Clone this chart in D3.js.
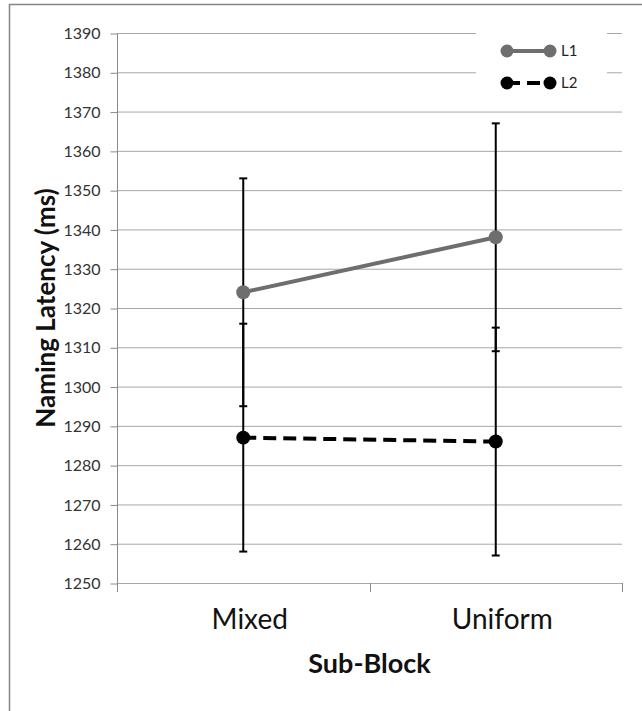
<!DOCTYPE html>
<html>
<head>
<meta charset="utf-8">
<script src="https://cdn.jsdelivr.net/npm/d3@7"></script>
<style>
  body { margin: 0; background: #fff; }
  svg { display: block; font-family: Lato, "Open Sans", sans-serif; }
</style>
</head>
<body>
<script>
// chart values
const categories = ["Mixed", "Uniform"];
const seriesNames = ["L1", "L2"];
const l1Values = [1324, 1338];
const l2Values = [1287, 1286];
const l1Errors = [29, 29];
const l2Errors = [29, 29];
const yTicks = [1250, 1260, 1270, 1280, 1290, 1300, 1310, 1320, 1330, 1340, 1350, 1360, 1370, 1380, 1390];

const w = 642;
const h = 711;
const plotLeft = 117, plotRight = 622, plotTop = 33, plotBottom = 583;

const svg = d3.select("body").append("svg")
              .attr("width", w)
              .attr("height", h);

svg.append("rect")
   .attr("width", w).attr("height", h)
   .attr("fill", "#fff");

// outer frame (cut off at right and bottom)
svg.append("path")
   .attr("d", "M9.5," + (h + 2) + "V4.5H" + (w + 2))
   .attr("fill", "none")
   .attr("stroke", "#858585")
   .attr("stroke-width", 1.5);

const xBand = d3.scaleBand().domain(categories).range([plotLeft, plotRight]);
const xScale = (c) => xBand(c) + xBand.bandwidth() / 2;

const yScale = d3.scaleLinear()
                 .domain([yTicks[0], yTicks[yTicks.length - 1]])
                 .range([plotBottom, plotTop]);

// gridlines
svg.append("g").selectAll("line")
   .data(yTicks)
   .enter()
   .append("line")
   .attr("x1", plotLeft).attr("x2", plotRight)
   .attr("y1", (d) => yScale(d) + 0.5).attr("y2", (d) => yScale(d) + 0.5)
   .attr("stroke", "#a8a8a8")
   .attr("stroke-width", 1);

// y axis
const yAxis = d3.axisLeft(yScale).tickValues(yTicks).tickFormat(d3.format("d"))
                .tickSize(7).tickPadding(10);
const gy = svg.append("g")
              .attr("transform", "translate(" + (plotLeft + 0.5) + ",0.5)")
              .call(yAxis);
gy.select(".domain").attr("stroke", "#8a8a8a").attr("d", "M0," + plotTop + "V" + plotBottom);
gy.selectAll(".tick line").attr("stroke", "#8a8a8a");
gy.selectAll(".tick text")
  .attr("fill", "#333")
  .style("font-size", "16px")
  .style("font-family", "Lato, sans-serif");

// x axis: labels under each category, ticks at category edges
const xAxis = d3.axisBottom(d3.scalePoint().domain(categories).range([xScale(categories[0]), xScale(categories[1])]))
                .tickSize(0).tickPadding(26);
const gx = svg.append("g")
              .attr("transform", "translate(0," + plotBottom + ")")
              .call(xAxis);
gx.select(".domain").remove();
gx.selectAll(".tick text")
  .attr("fill", "#111")
  .attr("dx", 6)
  .style("font-size", "28px")
  .style("font-family", "Lato, sans-serif");

const edges = categories.map((c) => xBand(c)).concat([xBand(categories[categories.length - 1]) + xBand.bandwidth()]);
svg.append("g").selectAll("line")
   .data(edges)
   .enter()
   .append("line")
   .attr("x1", (d) => Math.round(d) + 0.5).attr("x2", (d) => Math.round(d) + 0.5)
   .attr("y1", plotBottom).attr("y2", plotBottom + 9)
   .attr("stroke", "#8a8a8a");

// axis titles
svg.append("text")
   .attr("transform", "translate(55," + ((plotTop + plotBottom) / 2) + ") rotate(-90)")
   .attr("text-anchor", "middle")
   .style("font-size", "26px")
   .style("font-weight", "bold")
   .attr("fill", "#111")
   .text("Naming Latency (ms)");

svg.append("text")
   .attr("x", (plotLeft + plotRight) / 2)
   .attr("y", 673)
   .attr("text-anchor", "middle")
   .style("font-size", "27px")
   .style("font-weight", "bold")
   .attr("fill", "#111")
   .text("Sub-Block");

const series = [
  { name: seriesNames[0], values: l1Values, errors: l1Errors, color: "#6e6e6e", dash: null },
  { name: seriesNames[1], values: l2Values, errors: l2Errors, color: "#000", dash: "13,7" }
];

// lines
const line = d3.line().x((d, i) => xScale(categories[i])).y((d) => yScale(d));
svg.selectAll(".series")
   .data(series)
   .enter()
   .append("path")
   .attr("class", "series")
   .attr("d", (s) => line(s.values))
   .attr("fill", "none")
   .attr("stroke", (s) => s.color)
   .attr("stroke-width", 4)
   .attr("stroke-dasharray", (s) => s.dash);

// error bars
series.forEach((s) => {
  const g = svg.append("g").attr("stroke", "#000").attr("stroke-width", 2);
  s.values.forEach((v, i) => {
    const cx = xScale(categories[i]);
    const hi = yScale(v + s.errors[i]);
    const lo = yScale(v - s.errors[i]);
    g.append("line").attr("x1", cx).attr("x2", cx).attr("y1", hi).attr("y2", lo);
    g.append("line").attr("x1", cx - 4).attr("x2", cx + 4).attr("y1", hi).attr("y2", hi);
    g.append("line").attr("x1", cx - 4).attr("x2", cx + 4).attr("y1", lo).attr("y2", lo);
  });
});

// markers
series.forEach((s) => {
  svg.append("g").selectAll("circle")
     .data(s.values)
     .enter()
     .append("circle")
     .attr("cx", (d, i) => xScale(categories[i]))
     .attr("cy", (d) => yScale(d))
     .attr("r", 7)
     .attr("fill", s.color);
});

// legend
const legend = svg.append("g");
legend.append("rect")
      .attr("x", 476).attr("y", 26)
      .attr("width", 131).attr("height", 72)
      .attr("fill", "#fff");
series.forEach((s, i) => {
  const ly = 51 + i * 32;
  legend.append("line")
        .attr("x1", 507).attr("x2", 550)
        .attr("y1", ly).attr("y2", ly)
        .attr("stroke", s.color)
        .attr("stroke-width", 4)
        .attr("stroke-dasharray", s.dash);
  legend.append("circle").attr("cx", 507).attr("cy", ly).attr("r", 6.5).attr("fill", s.color);
  legend.append("circle").attr("cx", 550).attr("cy", ly).attr("r", 6.5).attr("fill", s.color);
  legend.append("text")
        .attr("x", 561).attr("y", ly + 5)
        .style("font-size", "15px")
        .attr("fill", "#222")
        .text(s.name);
});
</script>
</body>
</html>
